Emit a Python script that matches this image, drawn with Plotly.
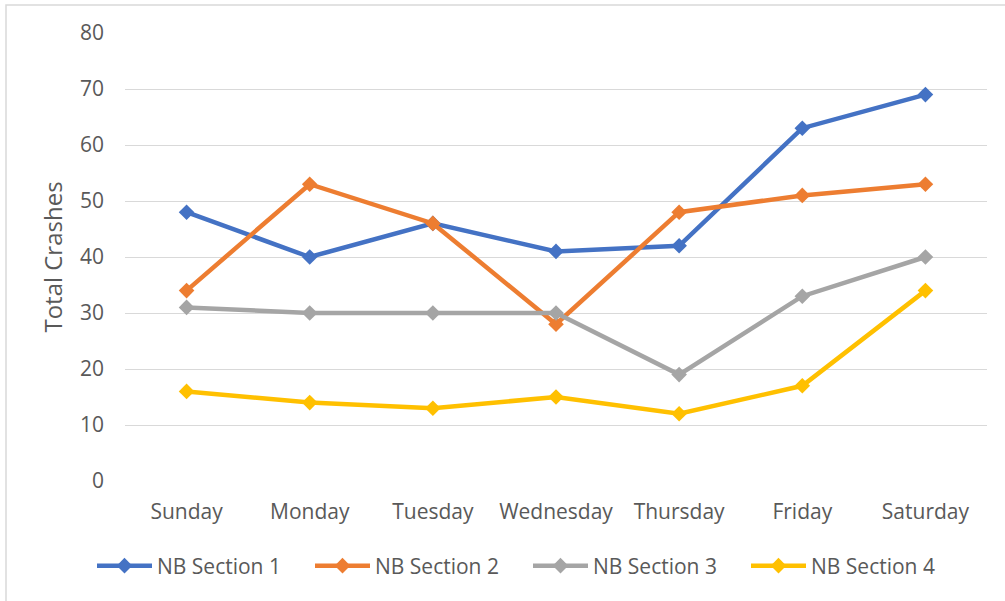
import plotly.graph_objects as go

days = ["Sunday", "Monday", "Tuesday", "Wednesday", "Thursday", "Friday", "Saturday"]
series_names = ["NB Section 1", "NB Section 2", "NB Section 3", "NB Section 4"]
s1 = [48, 40, 46, 41, 42, 63, 69]
s2 = [34, 53, 46, 28, 48, 51, 53]
s3 = [31, 30, 30, 30, 19, 33, 40]
s4 = [16, 14, 13, 15, 12, 17, 34]
y_ticks = [0, 10, 20, 30, 40, 50, 60, 70, 80]

colors = ["#4472C4", "#ED7D31", "#A5A5A5", "#FFC000"]
font_family = "Open Sans, Noto Sans, sans-serif"
text_color = "#595959"

fig = go.Figure()
for name, vals, c in zip(series_names, [s1, s2, s3, s4], colors):
    fig.add_trace(go.Scatter(
        x=days, y=vals, name=name, mode="lines+markers",
        line=dict(color=c, width=4.5),
        marker=dict(symbol="diamond", size=12, color=c),
    ))

fig.update_layout(
    width=1005, height=601,
    margin=dict(l=125, r=18, t=33, b=120),
    paper_bgcolor="white", plot_bgcolor="white",
    font=dict(family=font_family, color=text_color, size=21),
    xaxis=dict(range=[-0.5, 6.5], showgrid=False, showline=False, zeroline=False, ticks="",
               tickfont=dict(size=21, color=text_color), ticklabelstandoff=16),
    yaxis=dict(range=[0, 80], tickvals=y_ticks, showgrid=True, gridcolor="#D9D9D9",
               gridwidth=1, zeroline=False, showline=False, ticks="",
               tickfont=dict(size=21, color=text_color), ticklabelstandoff=20,
               title=dict(text="Total Crashes", font=dict(size=24, color=text_color), standoff=10)),
    legend=dict(orientation="h", xref="paper", yref="paper",
                x=(92 - 125) / 862, xanchor="left", y=(481 - 566) / 448, yanchor="middle",
                itemwidth=55, entrywidth=148, font=dict(size=21, color=text_color),
                traceorder="normal"),
    showlegend=True,
)
fig.add_shape(type="rect", xref="paper", yref="paper",
              x0=-119 / 862, x1=1.1, y0=-0.5, y1=(481 - 5) / 448,
              line=dict(color="#D9D9D9", width=1.5), fillcolor="rgba(0,0,0,0)", layer="below")

fig.write_html("out.html", config={"displayModeBar": False},
               post_script="document.body.style.margin='0';")
